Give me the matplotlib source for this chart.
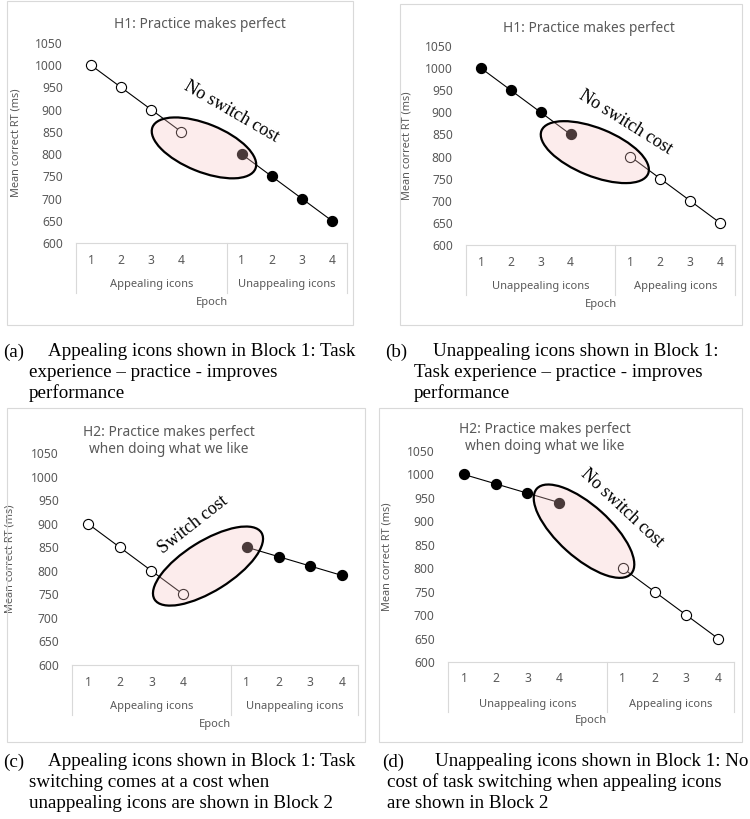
import numpy as np
import matplotlib
matplotlib.use('Agg')
import matplotlib.pyplot as plt
from matplotlib.patches import Ellipse, Rectangle
from matplotlib.transforms import IdentityTransform

# ---------------- donnees ----------------
epochs = ['1', '2', '3', '4']
y_ticks = [600, 650, 700, 750, 800, 850, 900, 950, 1000, 1050]

# (a) appealing puis unappealing
rt_a_block1 = [1000, 950, 900, 850]
rt_a_block2 = [800, 750, 700, 650]
# (b) unappealing puis appealing
rt_b_block1 = [1000, 950, 900, 850]
rt_b_block2 = [800, 750, 700, 650]
# (c) appealing puis unappealing
rt_c_block1 = [900, 850, 800, 750]
rt_c_block2 = [850, 830, 810, 790]
# (d) unappealing puis appealing
rt_d_block1 = [1000, 980, 960, 940]
rt_d_block2 = [800, 750, 700, 650]

titles = ['H1: Practice makes perfect', 'H1: Practice makes perfect',
          'H2: Practice makes perfect\nwhen doing what we like',
          'H2: Practice makes perfect\nwhen doing what we like']
groups = [('Appealing icons', 'Unappealing icons'), ('Unappealing icons', 'Appealing icons'),
          ('Appealing icons', 'Unappealing icons'), ('Unappealing icons', 'Appealing icons')]
notes = ['No switch cost', 'No switch cost', 'Switch cost', 'No switch cost']
captions = [
    ('(a)', ['Appealing icons shown in Block 1: Task', 'experience \u2013 practice - improves', 'performance']),
    ('(b)', ['Unappealing icons shown in Block 1:', 'Task experience \u2013 practice - improves', 'performance']),
    ('(c)', ['Appealing icons shown in Block 1: Task', 'switching comes at a cost when',
             'unappealing icons are shown in Block 2']),
    ('(d)', ['Unappealing icons shown in Block 1: No', 'cost of task switching when appealing icons',
             'are shown in Block 2']),
]
block1_data = [rt_a_block1, rt_b_block1, rt_c_block1, rt_d_block1]
block2_data = [rt_a_block2, rt_b_block2, rt_c_block2, rt_d_block2]
block1_open = [True, False, True, False]   # appealing = cercle vide

# ---------------- mise en page (pixels) ----------------
W, H = 750, 819
# axes : gauche, haut, droite, bas
axes_px = [(76, 43, 347, 243), (466, 46, 735, 245), (72, 453, 358, 665), (448, 451, 734, 662)]
frames_px = [(7, 1, 353, 325), (400, 4, 742, 325), (7, 408, 365, 742), (379, 408, 742, 742)]
title_px = [(200, 25), (589, 28), (169, 441), (545, 438)]
ylabel_x = [22, 413, 16, 392]
# ellipse : centre (x data, y data), largeur px, hauteur px, angle
ellipses = [(3.75, 814, 111, 48, -22), (3.81, 810, 115, 48, -22),
            (3.78, 810, 126, 50, 32), (3.78, 879, 127, 52, -42)]
note_px = [(231, 112, -30), (626, 122, -32), (193, 525, 38), (622, 508, -43)]
caption_px = [(3, 48, 29, 352), (385, 433, 414, 352), (3, 48, 29, 762), (382, 435, 387, 762)]

grey = '#595959'
light = '#d9d9d9'
sans = 'Noto Sans'
serif = 'Liberation Serif'

fig = plt.figure(figsize=(W / 100, H / 100), dpi=100)

for i in range(4):
    l, t, r, b = axes_px[i]
    ax = fig.add_axes([l / W, 1 - b / H, (r - l) / W, (b - t) / H])
    ax.set_xlim(-0.5, 8.5)
    ax.set_ylim(600, 1050)
    for s in ax.spines.values():
        s.set_visible(False)
    ax.set_yticks(y_ticks)
    ax.set_yticklabels([str(v) for v in y_ticks], fontsize=8.7, color=grey, family=sans)
    ax.tick_params(axis='y', length=0, pad=9.5)
    ax.set_xticks([])

    x1 = np.arange(len(epochs))
    x2 = np.arange(len(epochs)) + 5
    ax.plot(x1, block1_data[i], color='black', lw=0.8, zorder=2)
    ax.plot(x2, block2_data[i], color='black', lw=0.8, zorder=2)
    fc1 = 'white' if block1_open[i] else 'black'
    fc2 = 'black' if block1_open[i] else 'white'
    ax.plot(x1, block1_data[i], 'o', ms=7.3, mfc=fc1, mec='black', mew=0.8, zorder=3)
    ax.plot(x2, block2_data[i], 'o', ms=7.3, mfc=fc2, mec='black', mew=0.8, zorder=3)

    # boite de l'axe des categories
    ah = b - t
    depth = 50 / ah
    ax.plot([-0.5, 8.5], [0, 0], transform=ax.get_xaxis_transform(), color=light, lw=0.8, clip_on=False)
    for xv in [-0.5, 4.5, 8.5]:
        ax.plot([xv, xv], [0, -depth], transform=ax.get_xaxis_transform(), color=light, lw=0.8, clip_on=False)
    for k, lab in enumerate(epochs):
        for xv in (x1[k], x2[k]):
            ax.text(xv, -17 / ah, lab, transform=ax.get_xaxis_transform(), ha='center', va='center',
                    fontsize=8.7, color=grey, family=sans)
    ax.text(2.0, -42 / ah, groups[i][0], transform=ax.get_xaxis_transform(), ha='center', va='center',
            fontsize=8, color=grey, family=sans)
    ax.text(6.5, -42 / ah, groups[i][1], transform=ax.get_xaxis_transform(), ha='center', va='center',
            fontsize=8, color=grey, family=sans)
    ax.text(4.0, -59 / ah, 'Epoch', transform=ax.get_xaxis_transform(), ha='center', va='center',
            fontsize=8, color=grey, family=sans)

    # titre et label y
    fig.text(title_px[i][0] / W, 1 - title_px[i][1] / H, titles[i], ha='center', va='center',
             fontsize=9.9, color=grey, family=sans, linespacing=1.25)
    ax.set_ylabel('Mean correct RT (ms)', fontsize=7.9, color=grey, family=sans)
    ax.yaxis.set_label_coords((ylabel_x[i] - l) / (r - l), 0.5)

    # ellipse semi-transparente par-dessus les points
    ex, ey, ew, eh, ea = ellipses[i]
    cx, cy = ax.transData.transform((ex, ey))
    ax.add_artist(Ellipse((cx, cy), ew, eh, angle=ea, transform=IdentityTransform(),
                          facecolor=(0.97, 0.76, 0.76, 0.3), edgecolor='none', zorder=4, clip_on=False))
    ax.add_artist(Ellipse((cx, cy), ew, eh, angle=ea, transform=IdentityTransform(),
                          facecolor='none', edgecolor='black', lw=1.6, zorder=5, clip_on=False))
    nx, ny, nr = note_px[i]
    fig.text(nx / W, 1 - ny / H, notes[i], rotation=nr, rotation_mode='anchor', ha='center', va='center',
             fontsize=13, family=serif, color='black')

    # cadre gris autour du graphique
    fl, ft, fr, fb = frames_px[i]
    fig.patches.append(Rectangle((fl / W, 1 - fb / H), (fr - fl) / W, (fb - ft) / H, transform=fig.transFigure,
                                 facecolor='none', edgecolor=light, lw=0.8))

    # legende sous le graphique
    lx, tx, cx2, cy2 = caption_px[i]
    lab, lines = captions[i]
    fig.text(lx / W, 1 - cy2 / H, lab, ha='left', va='center', fontsize=13.7, family=serif)
    for j, line in enumerate(lines):
        x0 = tx if j == 0 else cx2
        fig.text(x0 / W, 1 - (cy2 + 20.5 * j) / H, line, ha='left', va='center', fontsize=13.7, family=serif)

fig.savefig('out.png', dpi=100)
